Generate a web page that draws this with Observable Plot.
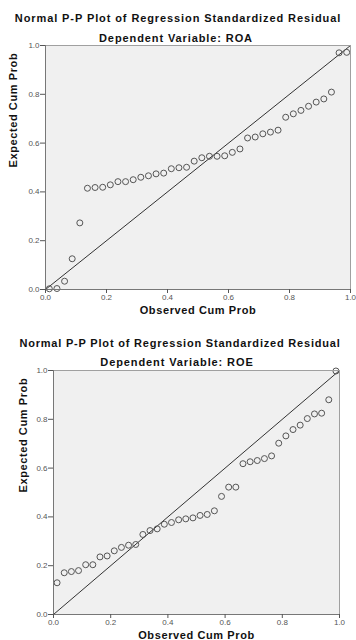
<!DOCTYPE html>
<html><head><meta charset="utf-8">
<script src="https://cdn.jsdelivr.net/npm/d3@7"></script>
<script src="https://cdn.jsdelivr.net/npm/@observablehq/plot@0.6"></script>
<style>
body{margin:0;background:#fff;}
#wrap{position:relative;width:356px;height:640px;overflow:hidden;font-family:"Liberation Sans",Arial,sans-serif;}
.t{position:absolute;text-align:center;font-weight:bold;color:#111;white-space:nowrap;line-height:14px;}
.plot{position:absolute;left:0;}
</style></head><body><div id="wrap"></div>
<script>
const observedCumProb = [0.0125,0.0375,0.0625,0.0875,0.1125,0.1375,0.1625,0.1875,0.2125,0.2375,
  0.2625,0.2875,0.3125,0.3375,0.3625,0.3875,0.4125,0.4375,0.4625,0.4875,
  0.5125,0.5375,0.5625,0.5875,0.6125,0.6375,0.6625,0.6875,0.7125,0.7375,
  0.7625,0.7875,0.8125,0.8375,0.8625,0.8875,0.9125,0.9375,0.9625,0.9875];
const roaExpected = [0.003,0.004,0.034,0.126,0.273,0.415,0.418,0.419,0.429,0.442,
  0.442,0.450,0.460,0.466,0.474,0.477,0.495,0.499,0.501,0.526,
  0.540,0.546,0.546,0.548,0.562,0.576,0.621,0.625,0.638,0.645,
  0.653,0.706,0.720,0.734,0.751,0.768,0.781,0.809,0.970,0.972];
const roeExpected = [0.130,0.171,0.176,0.180,0.204,0.204,0.236,0.240,0.261,0.275,
  0.284,0.287,0.328,0.344,0.351,0.370,0.377,0.388,0.392,0.396,
  0.406,0.410,0.425,0.484,0.522,0.522,0.618,0.626,0.631,0.639,
  0.650,0.702,0.732,0.758,0.776,0.803,0.822,0.825,0.880,0.998];
const tickValues = [0, 0.2, 0.4, 0.6, 0.8, 1.0];
const refLine = [0, 1];
const mainTitle = "Normal P-P Plot of Regression Standardized Residual";
const subTitles = ["Dependent Variable: ROA", "Dependent Variable: ROE"];
const xLabel = "Observed Cum Prob";
const yLabel = "Expected Cum Prob";

const wrap = document.getElementById("wrap");
function addText(txt, top, left, size, ls) {
  const d = document.createElement("div");
  d.className = "t";
  d.textContent = txt;
  d.style.top = top + "px";
  d.style.left = left + "px";
  d.style.width = "356px";
  d.style.fontSize = size + "px";
  d.style.letterSpacing = ls + "px";
  wrap.appendChild(d);
}

function makePlot(expected, o) {
  const data = observedCumProb.map((x, i) => ({x, y: expected[i]}));
  const p = Plot.plot({
    width: 356, height: o.height,
    marginLeft: o.ml, marginRight: o.mr, marginTop: o.mt, marginBottom: o.mb,
    style: {background: "transparent", fontFamily: "'Liberation Sans', Arial, sans-serif"},
    x: {domain: [0, 1]},
    y: {domain: [0, 1]},
    marks: [
      Plot.frame({fill: "#f0f0f0", stroke: "none"}),
      Plot.line(refLine, {x: d => d, y: d => d, stroke: "#333", strokeWidth: 1}),
      Plot.dot(data, {x: "x", y: "y", r: 3, stroke: "#555", fill: "none", strokeWidth: 1}),
      Plot.frame({stroke: "#a0a0a0", strokeWidth: 1}),
      Plot.ruleX([0], {stroke: "#777"}),
      Plot.ruleY([0], {stroke: "#777"}),
      Plot.axisX({ticks: tickValues, tickFormat: d3.format(".1f"), tickSize: 4, tickPadding: 1, fontSize: 8, color: "#555", label: null}),
      Plot.axisY({ticks: tickValues, tickFormat: d3.format(".1f"), tickSize: 5, tickPadding: 1, fontSize: 8, color: "#555", label: null}),
      Plot.text([xLabel], {frameAnchor: "bottom", dy: 24, fontSize: 11, fontWeight: "bold", fill: "#111"}),
      Plot.text([yLabel], {frameAnchor: "left", dx: o.ydx, rotate: -90, fontSize: 11, fontWeight: "bold", fill: "#111"})
    ]
  });
  p.querySelectorAll("text").forEach(t => {
    if (t.textContent === xLabel || t.textContent === yLabel) t.setAttribute("letter-spacing", "0.6");
  });
  p.classList.add("plot");
  p.style.top = o.top + "px";
  p.style.position = "absolute";
  wrap.appendChild(p);
}

addText(mainTitle, 11, 0, 11, 0.9);
addText(subTitles[0], 31, -2, 11, 0.9);
makePlot(roaExpected, {top: 40, height: 280, ml: 45, mr: 6, mt: 5, mb: 31, ydx: -32});
addText(mainTitle, 336, 2, 11, 0.8);
addText(subTitles[1], 355, -1, 11, 0.9);
makePlot(roeExpected, {top: 365, height: 275, ml: 53, mr: 17, mt: 5, mb: 26, ydx: -30});
</script></body></html>
